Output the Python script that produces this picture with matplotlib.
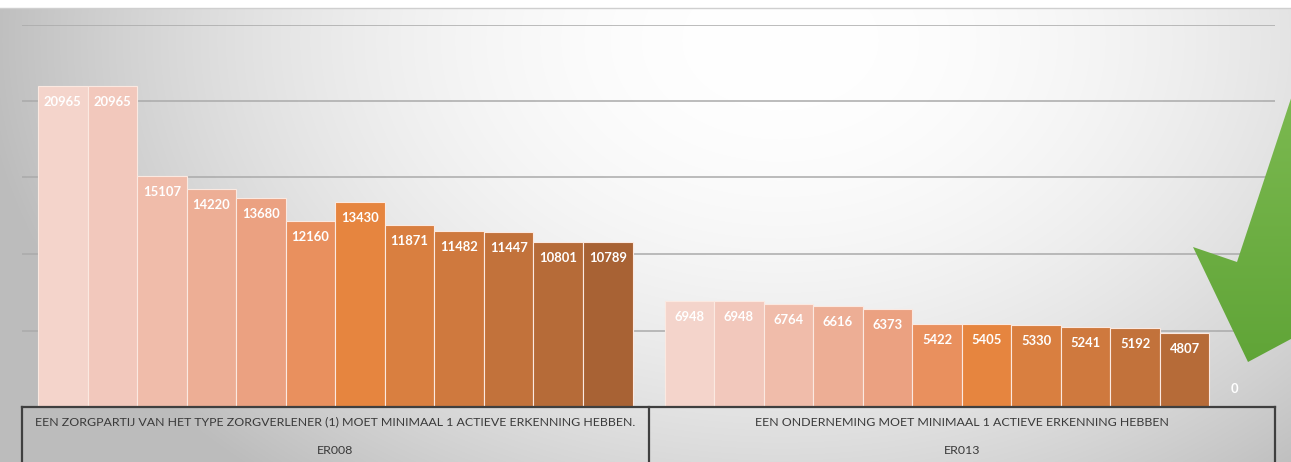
import numpy as np
import matplotlib
matplotlib.use('Agg')
import matplotlib.pyplot as plt
from matplotlib.patches import Polygon

# data
groups = ['ER008', 'ER013']
group_texts = ['EEN ZORGPARTIJ VAN HET TYPE ZORGVERLENER (1) MOET MINIMAAL 1 ACTIEVE ERKENNING HEBBEN.',
               'EEN ONDERNEMING MOET MINIMAAL 1 ACTIEVE ERKENNING HEBBEN']
er008 = [20965, 20965, 15107, 14220, 13680, 12160, 13430, 11871, 11482, 11447, 10801, 10789]
er013 = [6948, 6948, 6764, 6616, 6373, 5422, 5405, 5330, 5241, 5192, 4807, 0]
series_colors = ['#f4d4cb', '#f2c8bc', '#f0bcaa', '#edae95', '#eba181', '#e9905e',
                 '#e6853f', '#d97f40', '#cf793e', '#c2723b', '#b66b38', '#a86234']

W, H = 1291, 462
fig = plt.figure(figsize=(W / 100, H / 100), dpi=100)

# background gradient
bg = fig.add_axes([0, 0, 1, 1], zorder=0)
yy, xx = np.mgrid[0:H, 0:W]
d2 = ((xx - 780) / 700.0) ** 2 + ((yy - 40) / 500.0) ** 2
g = np.clip(1.0 - 0.2 * d2, 0.74, 1.0)
g[:8, :] = 1.0
img = np.dstack([g, g, g])
bg.imshow(img, extent=[0, W, H, 0], aspect='auto', interpolation='bilinear')
bg.plot([0, W], [8, 8], color='#cfcfcf', lw=1)
bg.set_xlim(0, W)
bg.set_ylim(H, 0)
bg.axis('off')

# main axes
x0, x1, ybase, ytop = 22, 1275, 407, 24.5
ax = fig.add_axes([x0 / W, (H - ybase) / H, (x1 - x0) / W, (ybase - ytop) / H], zorder=1)
ax.patch.set_alpha(0)
ax.set_xlim(-0.5, 1.5)
ax.set_ylim(0, 25000)
ax.set_yticks(range(0, 25001, 5000))
ax.yaxis.grid(True, color='#aaaaaa', lw=1.1)
ax.set_axisbelow(True)
ax.tick_params(length=0, labelleft=False, labelbottom=False)
for s in ax.spines.values():
    s.set_visible(False)

n = len(er008)
margin = 16 / 626.5
bw = (1 - 2 * margin) / n
lab_font = ['Lato', 'DejaVu Sans']
for gi, vals in enumerate([er008, er013]):
    for i, v in enumerate(vals):
        xc = gi - 0.5 + margin + (i + 0.5) * bw
        ax.bar(xc, v, width=bw, color=series_colors[i], edgecolor='#fbe9e1', lw=0.8)
        off = -16 if v > 0 else 18
        ax.annotate(str(v), (xc, v), xytext=(0, off), textcoords='offset pixels',
                    ha='center', va='center', color='white', fontsize=9.4,
                    fontweight='bold', family=lab_font)

# category table
tr = ax.get_xaxis_transform()
ax.plot([-0.5, 1.5], [0, 0], color='#3f3f3f', lw=1.6, transform=tr, clip_on=False, zorder=5)
for xb in [-0.5, 0.5, 1.5]:
    ax.plot([xb, xb], [0, -0.2], color='#3f3f3f', lw=1.6, transform=tr, clip_on=False, zorder=5)
for gi in range(len(groups)):
    ax.text(gi, -(422 - ybase) / (ybase - ytop), group_texts[gi], transform=tr, ha='center',
            va='center', fontsize=8.9, color='#3a3a3a', family=lab_font)
    ax.text(gi, -(450 - ybase) / (ybase - ytop), groups[gi], transform=tr, ha='center',
            va='center', fontsize=8.9, color='#3a3a3a', family=lab_font)

# green arrow overlay
ov = fig.add_axes([0, 0, 1, 1], zorder=2)
ov.patch.set_alpha(0)
arrow_pts = [(1340, -50), (1237, 262), (1193, 247), (1248, 362), (1360, 302), (1316, 288), (1427, -50)]
poly = Polygon(arrow_pts, closed=True, facecolor='none', edgecolor='none')
ov.add_patch(poly)
grad = np.linspace(0, 1, 200)[:, None]
c_top = np.array([0.49, 0.73, 0.32])
c_bot = np.array([0.37, 0.64, 0.21])
gimg = c_top[None, None, :] * (1 - grad[..., None]) + c_bot[None, None, :] * grad[..., None]
gimg = np.repeat(gimg, 2, axis=1)
im = ov.imshow(gimg, extent=[1150, W, 380, 80], aspect='auto', interpolation='bilinear')
im.set_clip_path(poly)
ov.set_xlim(0, W)
ov.set_ylim(H, 0)
ov.axis('off')

fig.savefig('out.png', dpi=100)
